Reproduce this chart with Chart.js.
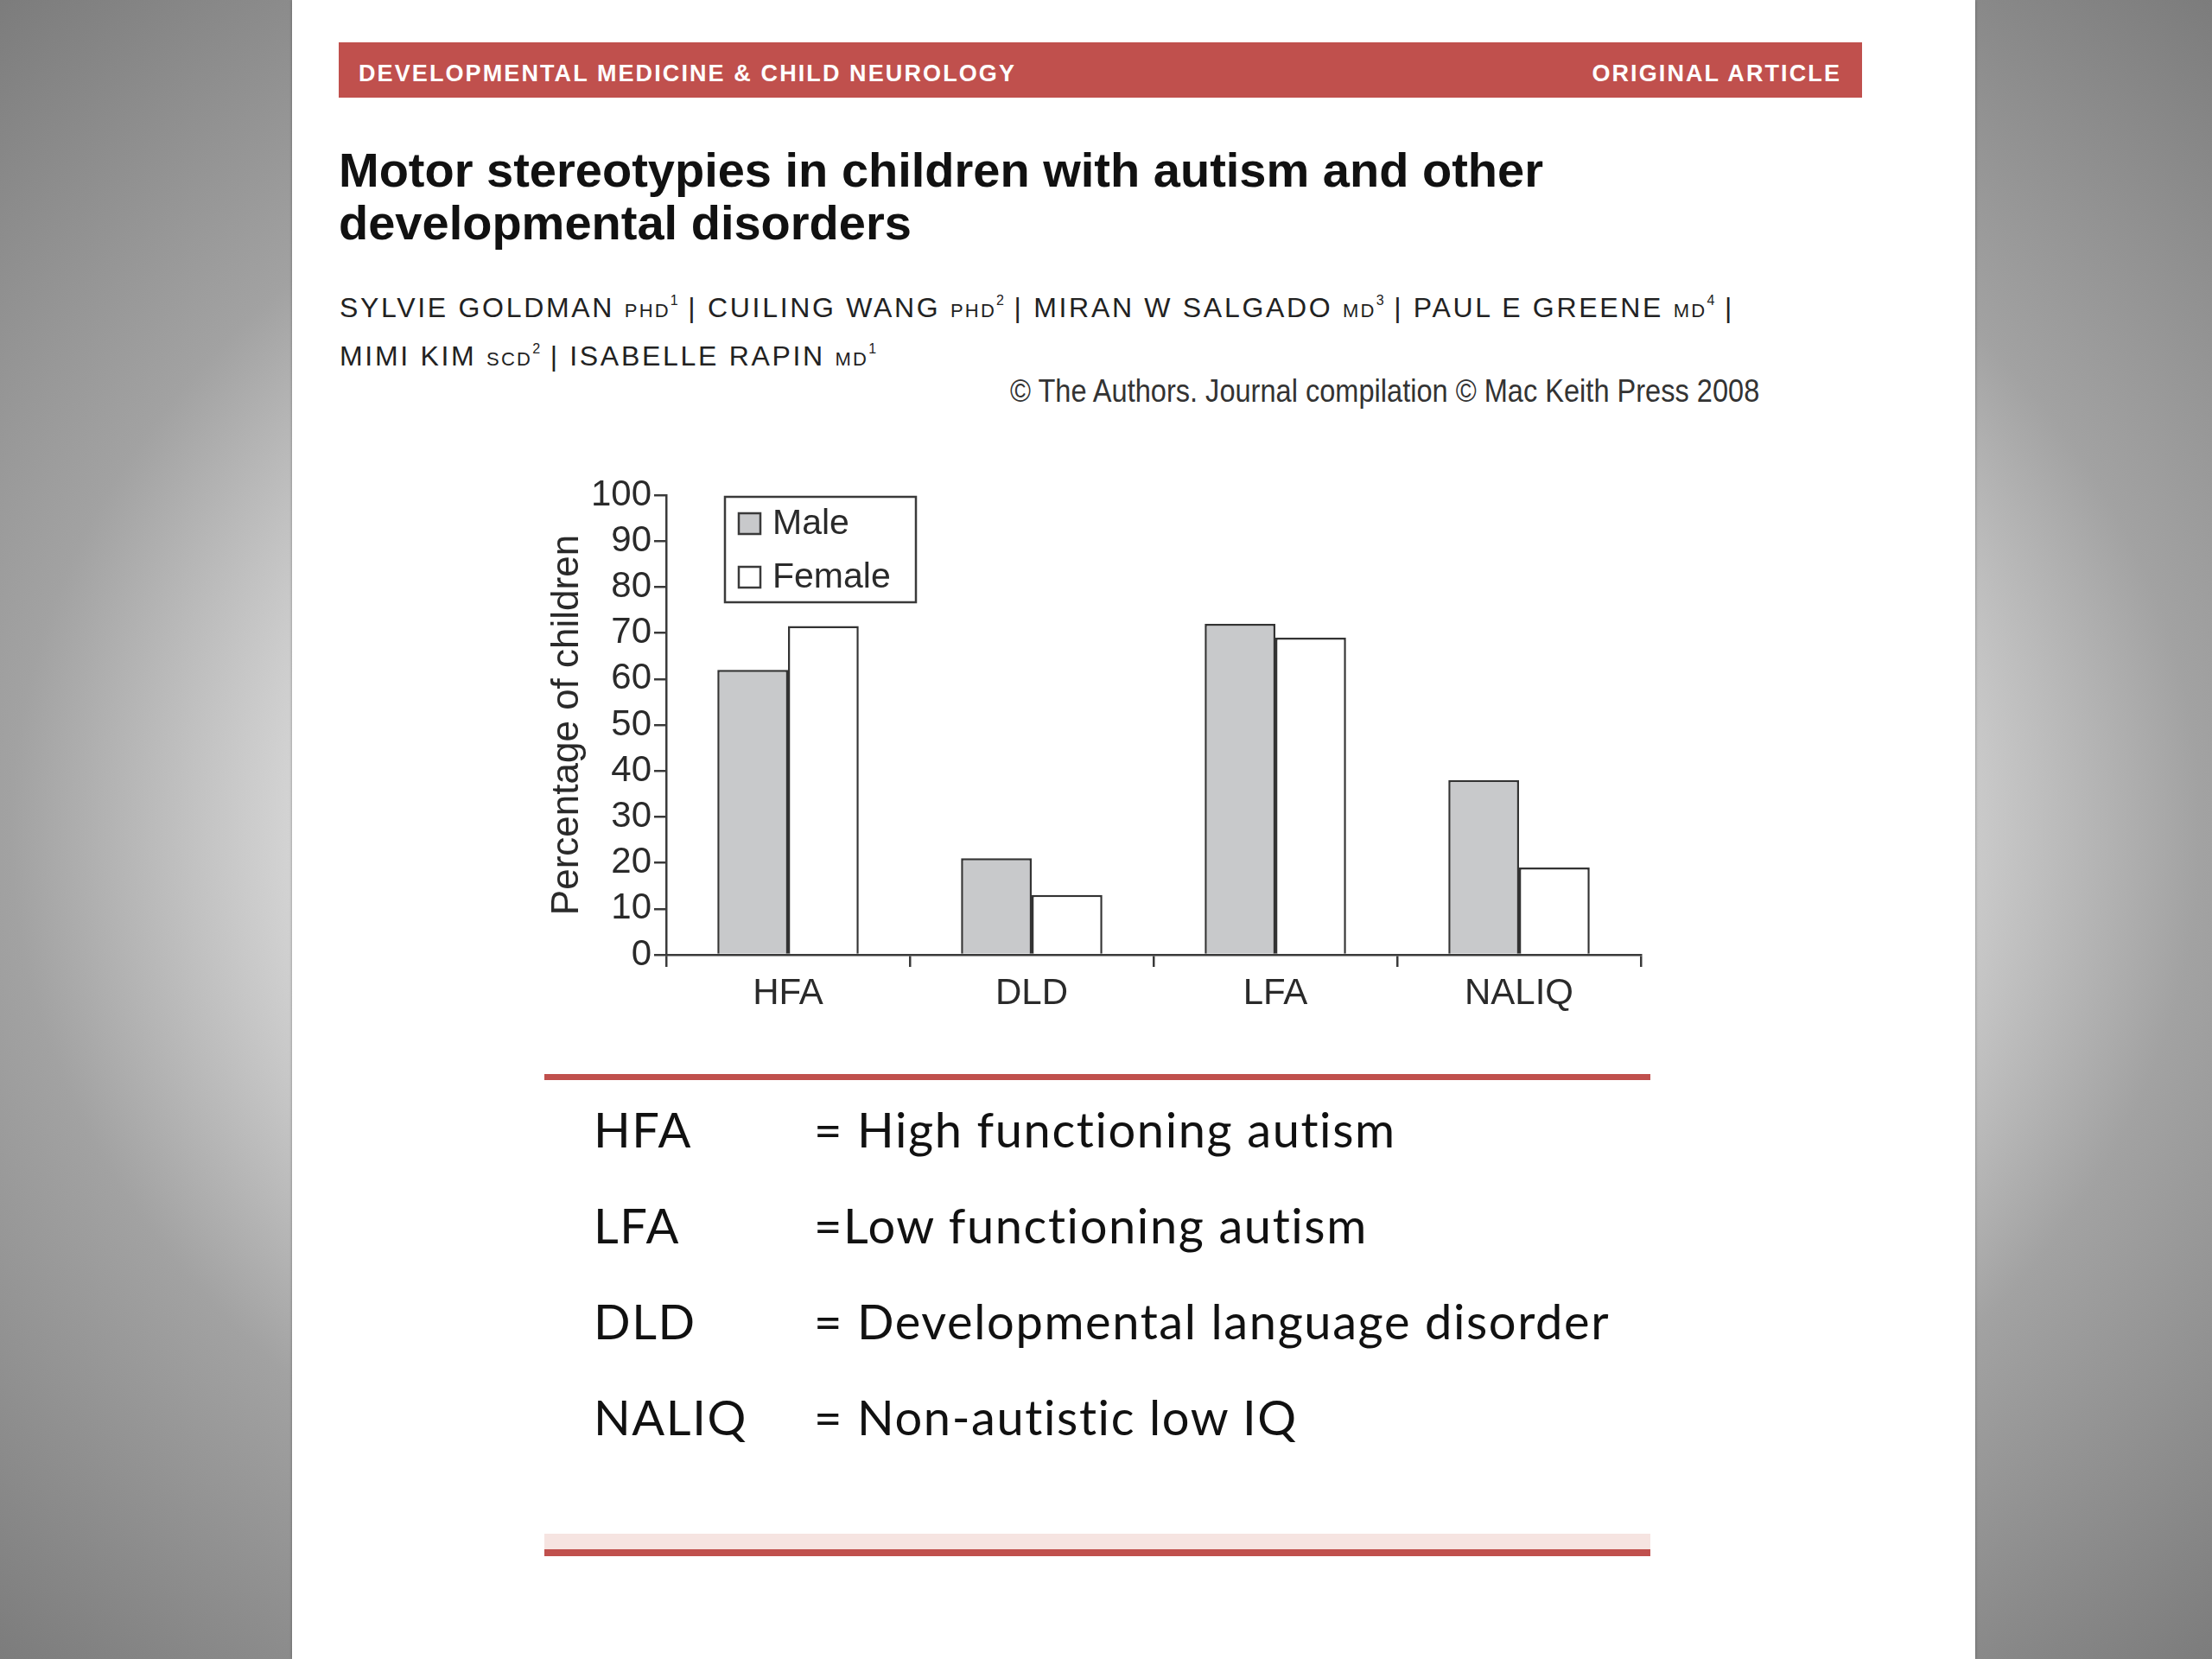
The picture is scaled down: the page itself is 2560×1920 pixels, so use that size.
<!DOCTYPE html>
<html>
<head>
<meta charset="utf-8">
<script src="https://cdn.jsdelivr.net/npm/chart.js@4.4.0/dist/chart.umd.min.js"></script>
<style>
  html, body { margin: 0; padding: 0; }
  body {
    width: 2560px; height: 1920px; position: relative; overflow: hidden;
    background: radial-gradient(ellipse farthest-corner at 50% 50%, #ffffff 0%, #d9d9d9 50%, #a2a2a2 70%, #7c7c7c 100%);
    font-family: "Liberation Sans", Arial, sans-serif;
  }
  .slide { position: absolute; left: 338px; top: 0; width: 1948px; height: 1920px; background: #fff;
    box-shadow: 0 0 3px rgba(0,0,0,0.35); }
  .abs { position: absolute; white-space: nowrap; }
  .banner { left: 392px; top: 49px; width: 1763px; height: 64px; background: #c0504d; }
  .banner span { position: absolute; top: 21px; color: #fff; font-weight: bold; font-size: 27px; letter-spacing: 2.1px; }
  .title { left: 392px; top: 166px; font-weight: bold; font-size: 56px; line-height: 61px; color: #111; }
  .authors { left: 393px; top: 331px; font-size: 32px; letter-spacing: 2.7px; line-height: 51px; color: #222; }
  .authors small { font-size: 22px; letter-spacing: 2.2px; }
  .authors sup { font-size: 16px; vertical-align: baseline; position: relative; top: -14px; letter-spacing: 0; }
  .copy { left: 1169px; top: 432px; font-size: 37px; color: #333; transform: scaleX(0.88); transform-origin: left top; }
  .rule { left: 630px; width: 1280px; background: #c0504d; }
  .defs { font-family: Lato, "Open Sans", sans-serif; font-size: 56px; letter-spacing: 1.6px; color: #111; }
  #wrap { position: absolute; left: 600px; top: 540px; width: 1340px; height: 660px; }
</style>
</head>
<body>
<div class="slide"></div>
<div class="abs banner">
  <span style="left:23px">DEVELOPMENTAL MEDICINE &amp; CHILD NEUROLOGY</span>
  <span style="right:24px">ORIGINAL ARTICLE</span>
</div>
<div class="abs title">Motor stereotypies in children with autism and other<br>developmental disorders</div>
<div class="abs authors">SYLVIE GOLDMAN <small>PHD</small><sup>1</sup> | CUILING WANG <small>PHD</small><sup>2</sup> | MIRAN W SALGADO <small>MD</small><sup>3</sup> | PAUL E GREENE <small>MD</small><sup>4</sup> |<br>MIMI KIM <small>SCD</small><sup>2</sup> | ISABELLE RAPIN <small>MD</small><sup>1</sup></div>
<div class="abs copy">© The Authors. Journal compilation © Mac Keith Press 2008</div>

<div id="wrap"><canvas id="chart"></canvas></div>

<div class="abs rule" style="top:1243px;height:7px"></div>
<div class="abs defs" style="left:687px;top:1273px">HFA</div>
<div class="abs defs" style="left:942px;top:1273px">= High functioning autism</div>
<div class="abs defs" style="left:687px;top:1384px">LFA</div>
<div class="abs defs" style="left:942px;top:1384px">=Low functioning autism</div>
<div class="abs defs" style="left:687px;top:1495px">DLD</div>
<div class="abs defs" style="left:942px;top:1495px">= Developmental language disorder</div>
<div class="abs defs" style="left:687px;top:1606px">NALIQ</div>
<div class="abs defs" style="left:942px;top:1606px">= Non-autistic low IQ</div>
<div class="abs rule" style="top:1775px;height:18px;background:#f6e4e1"></div>
<div class="abs rule" style="top:1793px;height:8px"></div>

<script>
const groups = ['HFA', 'DLD', 'LFA', 'NALIQ'];
const seriesNames = ['Male', 'Female'];
const maleValues = [62, 21, 72, 38];
const femaleValues = [71.5, 13, 69, 19];
const yTicks = [0, 10, 20, 30, 40, 50, 60, 70, 80, 90, 100];

const axisColor = '#3a3a3a';
const textColor = '#2a2a2a';

// boxed legend drawn inside the plot, upper left
const boxLegend = {
  id: 'boxLegend',
  afterDraw(chart) {
    const ctx = chart.ctx;
    const a = chart.chartArea;
    const x = a.left + 68, y = a.top + 2, w = 221, h = 122;
    ctx.save();
    ctx.strokeStyle = axisColor;
    ctx.lineWidth = 2.5;
    ctx.strokeRect(x, y, w, h);
    ctx.font = '41px "Liberation Sans", Arial, sans-serif';
    ctx.fillStyle = textColor;
    ctx.textBaseline = 'middle';
    chart.data.datasets.forEach((ds, i) => {
      const cy = y + 31 + i * 62;
      ctx.fillStyle = ds.backgroundColor;
      ctx.fillRect(x + 16, cy - 12, 25, 24);
      ctx.lineWidth = 2.5;
      ctx.strokeRect(x + 16, cy - 12, 25, 24);
      ctx.fillStyle = textColor;
      ctx.fillText(ds.label, x + 55, cy + 1);
    });
    ctx.restore();
  }
};

new Chart(document.getElementById('chart'), {
  type: 'bar',
  data: {
    labels: groups,
    datasets: [
      { label: seriesNames[0], data: maleValues, backgroundColor: '#c8c9cb', borderColor: '#333', borderWidth: 2.5 },
      { label: seriesNames[1], data: femaleValues, backgroundColor: '#ffffff', borderColor: '#333', borderWidth: 2.5 }
    ]
  },
  options: {
    responsive: true,
    maintainAspectRatio: false,
    animation: false,
    layout: { padding: { left: 10, top: 33, right: 41, bottom: 0 } },
    datasets: { bar: { barPercentage: 1, categoryPercentage: 0.58 } },
    plugins: { legend: { display: false }, tooltip: { enabled: false } },
    scales: {
      x: {
        offset: true,
        afterFit: (s) => { s.height = 95; },
        grid: { offset: true, drawOnChartArea: false, drawTicks: true, tickLength: 14, color: axisColor, lineWidth: 2.5 },
        border: { display: true, color: axisColor, width: 2.5 },
        ticks: { color: textColor, padding: 6, font: { family: '"Liberation Sans", Arial', size: 42 } }
      },
      y: {
        min: 0,
        max: 100,
        afterFit: (s) => { s.width = 161; },
        afterBuildTicks: (s) => { s.ticks = yTicks.map(v => ({ value: v })); },
        grid: { drawOnChartArea: false, drawTicks: true, tickLength: 14, color: axisColor, lineWidth: 2.5 },
        border: { display: true, color: axisColor, width: 2.5 },
        ticks: { autoSkip: false, color: textColor, padding: 3, font: { family: '"Liberation Sans", Arial', size: 42 } },
        title: { display: true, text: 'Percentage of children', color: textColor, padding: { top: 20, bottom: 0 },
          font: { family: '"Liberation Sans", Arial', size: 44 } }
      }
    }
  },
  plugins: [boxLegend]
});
</script>
</body>
</html>
